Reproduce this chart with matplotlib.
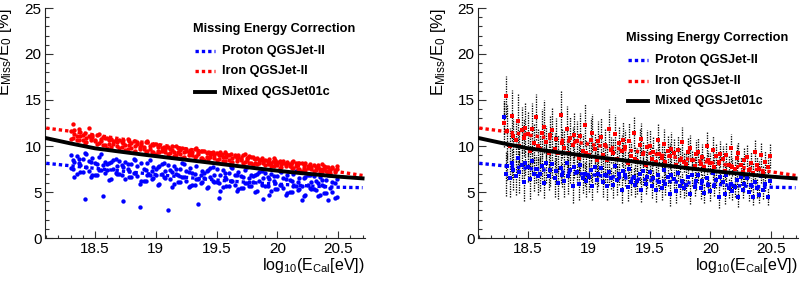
import matplotlib
matplotlib.use('Agg')
import matplotlib.pyplot as plt
from matplotlib.ticker import MultipleLocator, FuncFormatter
import numpy as np

plt.rcParams['font.family'] = ['Liberation Sans', 'DejaVu Sans']
plt.rcParams['mathtext.fontset'] = 'custom'
plt.rcParams['mathtext.rm'] = 'Liberation Sans'
plt.rcParams['mathtext.it'] = 'Liberation Sans'

# ---------------- data ----------------
curve_x = [18.1, 18.3, 18.5, 18.7, 18.9, 19.1, 19.3, 19.5, 19.7, 19.9, 20.1, 20.3, 20.5, 20.7]
proton_curve = [8.12, 7.85, 7.57, 7.30, 7.03, 6.78, 6.53, 6.30, 6.10, 5.93, 5.78, 5.63, 5.52, 5.47]
iron_curve = [11.95, 11.6, 11.2, 10.8, 10.4, 10.0, 9.6, 9.2, 8.8, 8.4, 8.0, 7.6, 7.2, 6.8]
mixed_curve = [10.85, 10.28, 9.75, 9.40, 9.06, 8.74, 8.42, 8.10, 7.78, 7.46, 7.17, 6.92, 6.67, 6.48]

x_events = [
    18.30, 18.32, 18.33, 18.35, 18.37, 18.38,
    18.40, 18.42, 18.43, 18.45, 18.47, 18.48,
    18.50, 18.52, 18.53, 18.55, 18.57, 18.58,
    18.60, 18.62, 18.63, 18.65, 18.67, 18.68,
    18.70, 18.72, 18.73, 18.75, 18.77, 18.78,
    18.80, 18.82, 18.83, 18.85, 18.87, 18.88,
    18.90, 18.92, 18.93, 18.95, 18.97, 18.98,
    19.00, 19.02, 19.03, 19.05, 19.07, 19.08,
    19.10, 19.12, 19.13, 19.15, 19.17, 19.18,
    19.20, 19.22, 19.23, 19.25, 19.27, 19.28,
    19.30, 19.32, 19.33, 19.35, 19.37, 19.38,
    19.40, 19.42, 19.43, 19.45, 19.47, 19.48,
    19.50, 19.52, 19.53, 19.55, 19.57, 19.58,
    19.60, 19.62, 19.63, 19.65, 19.67, 19.68,
    19.70, 19.72, 19.73, 19.75, 19.77, 19.78,
    19.80, 19.82, 19.83, 19.85, 19.87, 19.88,
    19.90, 19.92, 19.93, 19.95, 19.97, 19.98,
    20.00, 20.02, 20.03, 20.05, 20.07, 20.08,
    20.10, 20.12, 20.13, 20.15, 20.17, 20.18,
    20.20, 20.22, 20.23, 20.25, 20.27, 20.28,
    20.30, 20.32, 20.33, 20.35, 20.37, 20.38,
    20.40, 20.42, 20.43, 20.45, 20.47, 20.49,
]

# left panel: iron (red) reconstructions, two samples
iron_left_a = [
    11.6, 10.9, 11.3, 10.6, 11.8, 11.1,
    10.7, 11.4, 10.4, 11.1, 10.9, 11.2,
    10.7, 10.2, 11.3, 10.5, 10.1, 10.9,
    9.8, 10.6, 10.8, 10.2, 10.5, 10.0,
    10.6, 9.9, 10.3, 9.6, 10.8, 10.1,
    9.8, 10.5, 9.5, 10.2, 9.9, 10.3,
    9.9, 9.4, 10.5, 9.7, 9.3, 10.1,
    9.1, 9.9, 10.1, 9.5, 9.8, 9.4,
    9.9, 9.2, 9.6, 8.9, 10.0, 9.4,
    9.1, 9.8, 8.8, 9.5, 9.3, 9.6,
    9.3, 8.8, 9.8, 9.1, 8.7, 9.5,
    8.5, 9.2, 9.4, 8.8, 9.1, 8.7,
    9.2, 8.6, 9.0, 8.4, 9.3, 8.8,
    8.5, 9.1, 8.3, 8.9, 8.7, 9.0,
    8.6, 8.2, 9.1, 8.5, 8.1, 8.8,
    7.9, 8.6, 8.7, 8.2, 8.5, 8.1,
    8.5, 8.0, 8.3, 7.8, 8.7, 8.1,
    7.9, 8.4, 7.7, 8.2, 8.0, 8.3,
    8.0, 7.6, 8.4, 7.8, 7.5, 8.1,
    7.3, 7.9, 8.1, 7.6, 7.8, 7.5,
    7.9, 7.4, 7.7, 7.2, 8.0, 7.5,
    7.3, 7.7, 7.1, 7.6, 7.4, 7.8,
]
iron_left_b = [
    10.8, 12.4, 11.7, 11.1, 10.7, 11.5,
    11.2, 10.3, 10.9, 12.0, 10.6, 11.0,
    10.5, 11.2, 10.3, 10.8, 11.0, 10.1,
    10.9, 10.2, 9.9, 10.5, 10.7, 10.4,
    9.8, 10.4, 10.7, 10.1, 9.7, 10.5,
    10.3, 9.4, 10.0, 10.4, 9.7, 10.1,
    9.7, 10.4, 9.5, 10.0, 10.2, 9.3,
    10.2, 9.5, 9.3, 9.8, 9.9, 9.7,
    9.1, 9.7, 10.0, 9.4, 9.0, 9.8,
    9.6, 8.7, 9.3, 9.7, 9.0, 9.4,
    9.0, 9.7, 8.9, 9.4, 9.5, 8.7,
    9.5, 8.8, 8.6, 9.1, 9.3, 9.0,
    8.5, 9.0, 9.3, 8.8, 8.4, 9.1,
    9.0, 8.2, 8.7, 9.0, 8.4, 8.8,
    8.5, 9.0, 8.3, 8.7, 8.9, 8.1,
    8.8, 8.2, 8.0, 8.5, 8.7, 8.4,
    7.9, 8.4, 8.6, 8.1, 7.8, 8.5,
    8.3, 7.6, 8.0, 8.4, 7.8, 8.1,
    7.8, 8.3, 7.6, 8.1, 8.2, 7.5,
    8.1, 7.6, 7.4, 7.8, 8.0, 7.7,
    7.3, 7.7, 7.9, 7.5, 7.2, 7.8,
    7.7, 7.1, 7.4, 7.7, 7.2, 7.5,
]
# left panel: proton (blue) reconstructions, two samples
proton_left_a = [
    9.0, 7.5, 8.3, 7.0, 8.6, 7.9,
    7.2, 9.2, 7.7, 8.4, 6.6, 8.7,
    8.1, 6.8, 8.8, 7.4, 7.9, 7.1,
    7.4, 8.2, 6.4, 8.5, 7.1, 7.8,
    8.4, 6.9, 7.7, 6.4, 8.0, 7.3,
    6.6, 8.6, 7.1, 7.8, 5.9, 8.1,
    7.5, 6.2, 8.2, 6.8, 7.3, 6.5,
    6.9, 7.7, 5.9, 8.0, 6.6, 7.3,
    7.9, 6.4, 7.2, 5.9, 7.5, 6.8,
    6.1, 8.1, 6.6, 7.3, 5.5, 7.6,
    7.1, 5.8, 7.8, 6.4, 6.9, 6.1,
    6.5, 7.3, 5.5, 7.6, 6.2, 6.9,
    7.5, 6.0, 6.8, 5.5, 7.1, 6.4,
    5.7, 7.7, 6.2, 6.9, 5.1, 7.2,
    6.7, 5.4, 7.4, 6.0, 6.5, 5.7,
    6.1, 6.9, 5.1, 7.2, 5.8, 6.5,
    7.1, 5.6, 6.4, 5.1, 6.7, 6.0,
    5.3, 7.3, 5.8, 6.5, 4.7, 6.8,
    6.3, 5.0, 7.0, 5.6, 6.1, 5.3,
    5.7, 6.5, 4.7, 6.8, 5.4, 6.1,
    6.7, 5.2, 6.0, 4.7, 6.3, 5.6,
    4.9, 6.9, 5.4, 6.1, 4.3, 6.4,
]
proton_left_b = [
    7.6, 8.5, 6.6, 8.9, 8.1, 7.2,
    8.6, 4.2, 9.1, 7.3, 8.3, 6.8,
    6.8, 8.0, 7.4, 9.1, 4.6, 8.3,
    8.0, 6.3, 8.3, 7.5, 8.6, 7.0,
    7.0, 7.9, 4.0, 8.3, 7.5, 6.6,
    8.0, 7.1, 8.5, 6.7, 3.4, 6.2,
    6.2, 7.4, 6.8, 8.5, 6.4, 7.7,
    7.5, 5.8, 7.8, 7.0, 8.1, 6.5,
    3.0, 7.4, 5.5, 7.8, 7.0, 6.1,
    7.5, 6.6, 8.0, 6.2, 7.2, 5.7,
    5.8, 7.0, 6.4, 3.7, 6.0, 7.3,
    7.1, 5.4, 7.4, 6.6, 7.7, 6.1,
    6.1, 4.3, 5.1, 7.4, 6.6, 5.7,
    7.1, 6.2, 7.6, 5.8, 6.8, 5.3,
    5.4, 6.6, 6.0, 7.7, 5.6, 6.9,
    6.7, 5.0, 7.0, 6.2, 7.3, 4.2,
    5.7, 6.6, 4.7, 7.0, 6.2, 5.3,
    6.7, 5.8, 7.2, 5.4, 6.4, 4.9,
    5.0, 6.2, 5.6, 7.3, 5.2, 6.5,
    4.1, 4.6, 6.6, 5.8, 6.9, 5.3,
    5.3, 6.2, 4.6, 6.6, 5.8, 4.9,
    6.3, 4.1, 6.8, 5.0, 6.0, 4.5,
]

# right panel: values with uncertainties
iron_right = [
    12.5, 15.4, 11.6, 10.0, 13.3, 11.1,
    10.6, 12.7, 10.0, 11.7, 10.9, 12.0,
    11.3, 9.5, 11.9, 10.3, 13.1, 10.0,
    9.7, 11.4, 12.1, 10.4, 9.2, 11.2,
    11.7, 9.7, 10.8, 9.2, 13.4, 10.3,
    9.8, 11.9, 9.2, 10.9, 10.1, 11.2,
    10.5, 8.7, 11.1, 9.5, 12.3, 9.2,
    9.0, 10.7, 11.4, 9.7, 8.5, 10.5,
    11.0, 9.0, 10.1, 8.5, 11.8, 9.6,
    9.2, 11.3, 8.6, 10.3, 9.5, 10.6,
    9.9, 8.1, 10.5, 8.9, 11.4, 8.6,
    8.4, 10.1, 10.8, 9.1, 7.9, 9.9,
    10.0, 8.6, 9.4, 8.3, 10.6, 9.1,
    8.7, 10.2, 8.3, 9.5, 8.9, 9.7,
    9.2, 7.9, 9.6, 8.5, 10.4, 8.3,
    8.0, 9.3, 9.8, 8.5, 7.8, 9.1,
    9.4, 8.0, 8.8, 7.7, 10.0, 8.5,
    8.1, 9.6, 7.7, 8.9, 8.3, 9.1,
    8.6, 7.3, 9.0, 7.9, 9.8, 7.7,
    7.5, 8.7, 9.2, 7.9, 7.2, 8.5,
    8.8, 7.4, 8.2, 7.1, 9.4, 7.9,
    7.5, 9.0, 7.1, 8.3, 7.7, 8.9,
]
iron_right_err = [
    2.6, 2.2, 3.0, 2.0, 2.8, 1.8,
    2.3, 2.9, 1.7, 2.5, 2.0, 2.7,
    2.4, 1.8, 2.8, 2.1, 2.5, 1.9,
    2.0, 2.6, 2.9, 1.8, 2.3, 2.2,
    2.4, 1.7, 2.2, 2.0, 2.7, 1.6,
    1.9, 2.5, 1.6, 2.3, 2.0, 2.4,
    2.2, 1.6, 2.5, 1.8, 2.3, 1.5,
    1.7, 2.3, 2.1, 1.6, 1.9, 2.2,
    2.0, 1.5, 1.9, 1.7, 2.2, 1.4,
    1.6, 2.1, 1.4, 1.9, 1.7, 2.0,
    1.8, 1.4, 2.0, 1.5, 1.9, 1.3,
    1.4, 1.9, 1.7, 1.3, 1.6, 1.8,
    1.7, 1.3, 1.6, 1.4, 1.9, 1.2,
    1.3, 1.7, 1.2, 1.6, 1.4, 1.8,
    1.6, 1.2, 1.5, 1.3, 1.7, 1.1,
    1.2, 1.6, 1.4, 1.1, 1.3, 1.5,
    1.5, 1.1, 1.4, 1.2, 1.6, 1.0,
    1.1, 1.5, 1.0, 1.3, 1.2, 1.4,
    1.4, 1.0, 1.3, 1.1, 1.5, 1.0,
    1.0, 1.4, 1.2, 0.9, 1.1, 1.3,
    1.3, 0.9, 1.2, 1.0, 1.4, 0.9,
    0.9, 1.3, 0.8, 1.2, 1.0, 1.3,
]
proton_right = [
    13.1, 7.0, 7.8, 6.5, 8.1, 7.4,
    6.7, 8.7, 7.2, 7.9, 6.1, 8.2,
    7.7, 6.4, 8.4, 7.0, 7.5, 6.7,
    7.0, 7.8, 6.0, 8.1, 6.7, 7.4,
    8.0, 6.5, 7.3, 6.0, 7.6, 6.9,
    6.2, 8.2, 6.7, 7.4, 5.6, 7.7,
    7.2, 5.9, 7.9, 6.5, 7.0, 6.2,
    6.6, 7.4, 5.6, 7.7, 6.3, 7.0,
    7.6, 6.1, 6.9, 5.6, 7.2, 6.5,
    5.8, 7.8, 6.3, 7.0, 5.2, 7.3,
    6.8, 5.5, 7.5, 6.1, 6.6, 5.8,
    6.2, 7.0, 5.2, 7.3, 5.9, 6.6,
    7.2, 5.7, 6.5, 5.2, 6.8, 6.1,
    5.4, 7.4, 5.9, 6.6, 4.8, 6.9,
    6.4, 5.1, 7.1, 5.7, 6.2, 5.4,
    5.8, 6.6, 4.8, 6.9, 5.5, 6.2,
    6.9, 5.4, 6.2, 4.9, 6.5, 5.8,
    5.1, 7.1, 5.6, 6.3, 4.5, 6.6,
    6.1, 4.8, 6.8, 5.4, 5.9, 5.1,
    5.5, 6.3, 4.5, 6.6, 5.2, 5.9,
    6.5, 5.0, 5.8, 4.5, 6.1, 5.4,
    4.7, 6.7, 5.2, 5.9, 4.5, 6.2,
]
proton_right_err = [
    1.8, 2.4, 1.5, 2.0, 1.6, 2.2,
    2.0, 1.5, 2.3, 1.7, 2.1, 1.4,
    1.6, 2.2, 1.4, 1.9, 1.5, 2.0,
    1.9, 1.4, 1.7, 2.1, 1.5, 1.8,
    1.5, 2.0, 1.3, 1.8, 1.6, 1.4,
    1.7, 1.3, 1.9, 1.4, 1.8, 1.2,
    1.4, 1.8, 1.2, 1.6, 1.3, 1.7,
    1.6, 1.2, 1.5, 1.8, 1.3, 1.4,
    1.3, 1.6, 1.1, 1.5, 1.4, 1.2,
    1.5, 1.1, 1.6, 1.2, 1.4, 1.0,
    1.2, 1.5, 1.0, 1.4, 1.1, 1.3,
    1.4, 1.0, 1.3, 1.5, 1.1, 1.2,
    1.1, 1.4, 0.9, 1.3, 1.2, 1.0,
    1.3, 0.9, 1.2, 1.0, 1.3, 0.9,
    1.0, 1.3, 0.9, 1.2, 1.0, 1.1,
    1.2, 0.9, 1.1, 1.3, 0.9, 1.0,
    0.9, 1.2, 0.8, 1.1, 1.0, 0.9,
    1.1, 0.8, 1.0, 0.9, 1.2, 0.8,
    0.8, 1.1, 0.9, 1.0, 0.8, 1.0,
    1.0, 0.8, 1.1, 0.8, 0.9, 0.9,
    0.8, 1.0, 0.7, 0.9, 0.8, 1.0,
    0.9, 0.7, 1.0, 0.8, 0.9, 0.7,
]

legend_title = "Missing Energy Correction"
labels = ["Proton QGSJet-II", "Iron QGSJet-II", "Mixed QGSJet01c"]
xlabel = r"$\mathregular{log_{10}(E_{Cal}[eV])}$"
ylabel = r"$\mathregular{E_{Miss}/E_{0}\ [\%]}$"

# ---------------- figure ----------------
fig = plt.figure(figsize=(8.12, 2.88), dpi=100)
W, H = 812.0, 288.0
axL = fig.add_axes([45 / W, 50 / H, 320 / W, 230 / H])
axR = fig.add_axes([478 / W, 50 / H, 320 / W, 230 / H])

BLUE = '#0000ff'
RED = '#ff0000'
dot_style = (0, (1.0, 0.9))
LEG_FS = 9.2

styles = [
    dict(color=BLUE, lw=2.4, ls=dot_style),
    dict(color=RED, lw=2.4, ls=dot_style),
    dict(color='black', lw=2.8, ls='-'),
]


def style(ax, ylab_x):
    ax.set_xlim(18.09, 20.72)
    ax.set_ylim(0, 25)
    for s in ['top', 'right']:
        ax.spines[s].set_visible(False)
    for s in ['left', 'bottom']:
        ax.spines[s].set_linewidth(0.8)
        ax.spines[s].set_color('#222222')
    ax.xaxis.set_major_locator(MultipleLocator(0.5))
    ax.xaxis.set_minor_locator(MultipleLocator(0.1))
    ax.yaxis.set_major_locator(MultipleLocator(5))
    ax.yaxis.set_minor_locator(MultipleLocator(1))
    ax.xaxis.set_major_formatter(FuncFormatter(lambda v, p: '%g' % round(v, 2) if v > 18.3 else ''))
    ax.yaxis.set_major_formatter(FuncFormatter(lambda v, p: '%g' % v))
    ax.tick_params(which='both', direction='in', top=False, right=False, labelsize=11,
                   color='#333333', width=0.8)
    ax.tick_params(axis='y', which='major', length=5.8, pad=2.5)
    ax.tick_params(axis='y', which='minor', length=2.9)
    ax.tick_params(axis='x', which='major', length=5.0, pad=3)
    ax.tick_params(axis='x', which='minor', length=2.5)
    ax.set_xlabel(xlabel, fontsize=11.5, loc='right')
    ax.xaxis.set_label_coords(1.0, -0.078)
    ax.set_ylabel(ylabel, fontsize=12, loc='top')
    ax.yaxis.set_label_coords(ylab_x, 1.0)


def draw_curves(ax):
    for yv, st in zip([proton_curve, iron_curve, mixed_curve], styles):
        ax.plot(curve_x, yv, zorder=5, **st)


def draw_legend(ax, y_title, y_rows):
    # positions in axes fractions
    ax.text(0.4625, y_title, legend_title, transform=ax.transAxes, ha='left', va='center',
            fontsize=LEG_FS, fontweight='bold', zorder=10)
    for yr, lab, st in zip(y_rows, labels, styles):
        ax.plot([0.469, 0.531], [yr, yr], transform=ax.transAxes, clip_on=False,
                zorder=10, **st)
        ax.text(0.553, yr, lab, transform=ax.transAxes, ha='left', va='center',
                fontsize=LEG_FS, fontweight='bold', zorder=10)


# left panel
style(axL, -0.098)
for yv, col in [(proton_left_a, BLUE), (proton_left_b, BLUE), (iron_left_a, RED), (iron_left_b, RED)]:
    axL.scatter(x_events, yv, s=10, color=col, lw=0, zorder=3)
draw_curves(axL)
draw_legend(axL, 0.9087, [0.813, 0.726, 0.635])

# right panel
style(axR, -0.094)
for yv, ev, col in [(iron_right, iron_right_err, RED), (proton_right, proton_right_err, BLUE)]:
    eb = axR.errorbar(x_events, yv, yerr=ev, fmt='none', ecolor='black', elinewidth=0.95,
                      capsize=0, zorder=2)
    eb[2][0].set_linestyle((0, (1, 0.9)))
    axR.scatter(x_events, yv, s=8, marker='s', color=col, lw=0, zorder=3)
draw_curves(axR)
draw_legend(axR, 0.8696, [0.774, 0.683, 0.596])

fig.savefig('out.png', dpi=100)
